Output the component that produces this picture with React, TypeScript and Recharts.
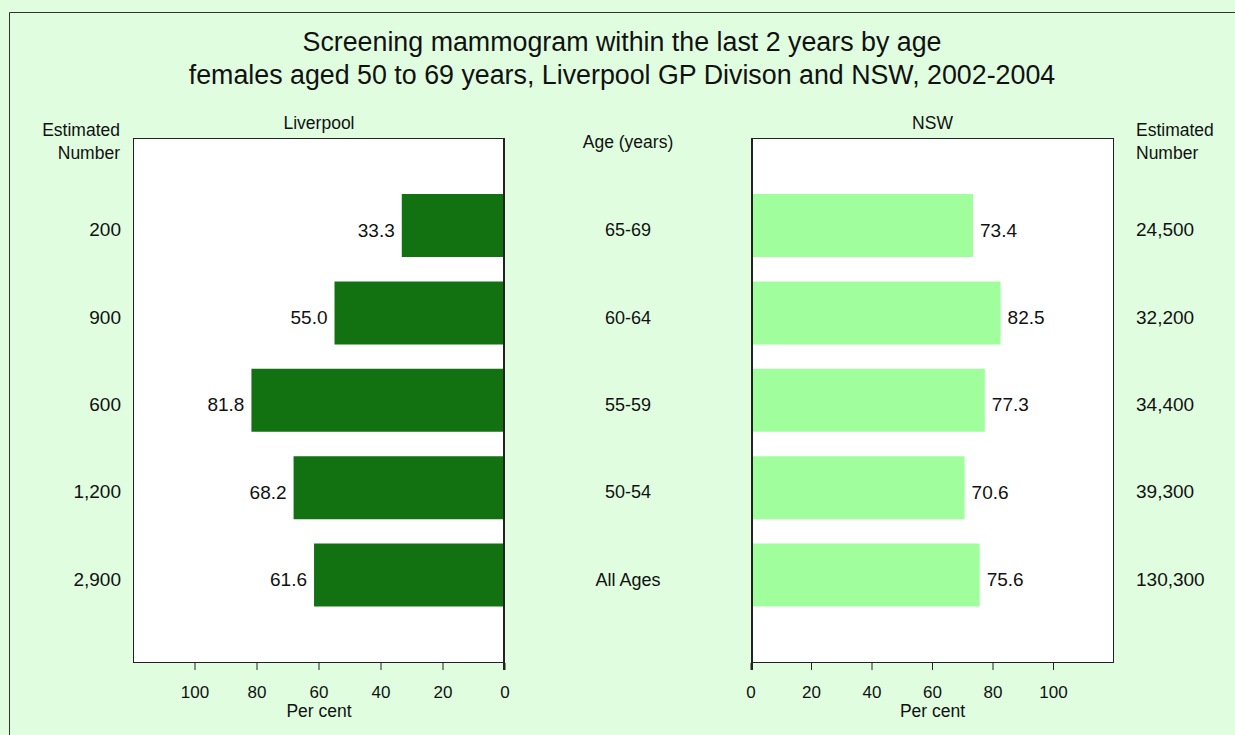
import { BarChart, Bar, XAxis, YAxis, CartesianGrid, LabelList } from "recharts"

// data, top row first
const ageGroups = ["65-69", "60-64", "55-59", "50-54", "All Ages"]
const liverpoolPct = [33.3, 55.0, 81.8, 68.2, 61.6]
const liverpoolNumber = ["200", "900", "600", "1,200", "2,900"]
const nswPct = [73.4, 82.5, 77.3, 70.6, 75.6]
const nswNumber = ["24,500", "32,200", "34,400", "39,300", "130,300"]
const pctTicks = [0, 20, 40, 60, 80, 100]

const rows = ageGroups.map((age, i) => ({
  age,
  liverpool: liverpoolPct[i],
  liverpoolNum: liverpoolNumber[i],
  nsw: nswPct[i],
  nswNum: nswNumber[i],
}))

const FONT = "'Liberation Sans', Arial, Helvetica, sans-serif"
const W = 1235
const H = 735
const SPLIT = 720 // left chart spans 0..SPLIT, right chart SPLIT..W
const PLOT_TOP = 138
const PLOT_BOTTOM = 663
const L_LEFT = 133
const L_RIGHT = 505
const R_LEFT = 751
const R_RIGHT = 1114
const BAND_PAD = 44
const TEXT = "#111"
const LINE = "#222"

// category tick with fixed anchor and a small downward shift like the original
const makeTick = (anchor: "start" | "middle" | "end", size: number) => (props: any) => {
  const { x, y, payload } = props
  return (
    <text x={x} y={y + 10.5} textAnchor={anchor} fontSize={size} fill={TEXT} fontFamily={FONT}>
      {payload.value}
    </text>
  )
}

// value label beside the bar's outer end
const makeLabel = (side: "left" | "right") => (props: any) => {
  const { x, y, width, height, value } = props
  const lo = Math.min(x, x + width)
  const hi = Math.max(x, x + width)
  const cy = y + height / 2
  return (
    <text
      x={side === "left" ? lo - 7 : hi + 7}
      y={cy + 11}
      textAnchor={side === "left" ? "end" : "start"}
      fontSize={19}
      fill={TEXT}
      fontFamily={FONT}
    >
      {Number(value).toFixed(1)}
    </text>
  )
}

const xAxisProps = {
  type: "number" as const,
  domain: [0, 120],
  ticks: pctTicks,
  interval: 0 as const,
  axisLine: false,
  tickLine: { stroke: LINE },
  tickSize: 7,
  tickMargin: 16,
  height: H - PLOT_BOTTOM,
  tick: { fontSize: 17, fill: TEXT, fontFamily: FONT },
  allowDataOverflow: true,
}

function LiverpoolChart() {
  return (
    <BarChart
      width={SPLIT}
      height={H}
      data={rows}
      layout="vertical"
      margin={{ top: PLOT_TOP, right: 0, bottom: 0, left: 0 }}
    >
      <CartesianGrid fill="#ffffff" horizontal={false} vertical={false} />
      <XAxis
        {...xAxisProps}
        reversed={true}
        label={{ value: "Per cent", position: "insideBottom", offset: 18, fontSize: 17.5, fill: TEXT }}
      />
      <YAxis
        yAxisId="num"
        type="category"
        dataKey="liverpoolNum"
        orientation="left"
        width={L_LEFT}
        axisLine={false}
        tickLine={false}
        tickSize={0}
        tickMargin={12}
        padding={{ top: BAND_PAD, bottom: BAND_PAD }}
        tick={makeTick("end", 19)}
      />
      <YAxis
        yAxisId="age"
        type="category"
        dataKey="age"
        orientation="right"
        width={SPLIT - L_RIGHT}
        axisLine={false}
        tickLine={false}
        tickSize={0}
        tickMargin={123}
        padding={{ top: BAND_PAD, bottom: BAND_PAD }}
        tick={makeTick("middle", 18)}
      />
      <Bar dataKey="liverpool" yAxisId="age" fill="#127212" barSize={63} isAnimationActive={false}>
        <LabelList dataKey="liverpool" content={makeLabel("left")} />
      </Bar>
    </BarChart>
  )
}

function NswChart() {
  return (
    <BarChart
      width={W - SPLIT}
      height={H}
      data={rows}
      layout="vertical"
      margin={{ top: PLOT_TOP, right: 0, bottom: 0, left: R_LEFT - SPLIT }}
    >
      <CartesianGrid fill="#ffffff" horizontal={false} vertical={false} />
      <XAxis
        {...xAxisProps}
        label={{ value: "Per cent", position: "insideBottom", offset: 18, fontSize: 17.5, fill: TEXT }}
      />
      <YAxis
        yAxisId="age"
        type="category"
        dataKey="age"
        hide={true}
        padding={{ top: BAND_PAD, bottom: BAND_PAD }}
      />
      <YAxis
        yAxisId="num"
        type="category"
        dataKey="nswNum"
        orientation="right"
        width={W - R_RIGHT}
        axisLine={false}
        tickLine={false}
        tickSize={0}
        tickMargin={22}
        padding={{ top: BAND_PAD, bottom: BAND_PAD }}
        tick={makeTick("start", 19)}
      />
      <Bar dataKey="nsw" yAxisId="age" fill="#a0ff9c" barSize={63} isAnimationActive={false}>
        <LabelList dataKey="nsw" content={makeLabel("right")} />
      </Bar>
    </BarChart>
  )
}

export default function App() {
  const txt = { fill: TEXT, fontFamily: FONT }
  return (
    <div
      style={{
        position: "fixed",
        left: 0,
        top: 0,
        width: W,
        height: H,
        background: "#e0fde0",
        fontFamily: FONT,
        overflow: "hidden",
      }}
    >
      <div style={{ position: "absolute", left: 0, top: 0 }}>
        <LiverpoolChart />
      </div>
      <div style={{ position: "absolute", left: SPLIT, top: 0 }}>
        <NswChart />
      </div>
      <svg
        width={W}
        height={H}
        style={{ position: "absolute", left: 0, top: 0, pointerEvents: "none" }}
      >
        <path d={`M9.5,${H} V12.5 H${W}`} stroke="#333" fill="none" />
        <text x={622} y={51} textAnchor="middle" fontSize={26.8} {...txt}>
          Screening mammogram within the last 2 years by age
        </text>
        <text x={622} y={84} textAnchor="middle" fontSize={26.8} {...txt}>
          females aged 50 to 69 years, Liverpool GP Divison and NSW, 2002-2004
        </text>
        <text x={(L_LEFT + L_RIGHT) / 2} y={129} textAnchor="middle" fontSize={17.5} {...txt}>
          Liverpool
        </text>
        <text x={(R_LEFT + R_RIGHT) / 2} y={129} textAnchor="middle" fontSize={17.5} {...txt}>
          NSW
        </text>
        <text x={120} y={136} textAnchor="end" fontSize={17.5} {...txt}>Estimated</text>
        <text x={120} y={159} textAnchor="end" fontSize={17.5} {...txt}>Number</text>
        <text x={1136} y={136} textAnchor="start" fontSize={17.5} {...txt}>Estimated</text>
        <text x={1136} y={159} textAnchor="start" fontSize={17.5} {...txt}>Number</text>
        <text x={628} y={148} textAnchor="middle" fontSize={17.5} {...txt}>Age (years)</text>
        <rect
          x={L_LEFT + 0.5}
          y={PLOT_TOP + 0.5}
          width={L_RIGHT - L_LEFT - 1}
          height={PLOT_BOTTOM - PLOT_TOP - 1}
          fill="none"
          stroke={LINE}
        />
        <rect
          x={R_LEFT + 0.5}
          y={PLOT_TOP + 0.5}
          width={R_RIGHT - R_LEFT - 1}
          height={PLOT_BOTTOM - PLOT_TOP - 1}
          fill="none"
          stroke={LINE}
        />
        <line x1={L_RIGHT - 1} y1={PLOT_TOP} x2={L_RIGHT - 1} y2={PLOT_BOTTOM + 7} stroke={LINE} strokeWidth={2} />
        <line x1={R_LEFT + 1} y1={PLOT_TOP} x2={R_LEFT + 1} y2={PLOT_BOTTOM + 7} stroke={LINE} strokeWidth={2} />
      </svg>
    </div>
  )
}
